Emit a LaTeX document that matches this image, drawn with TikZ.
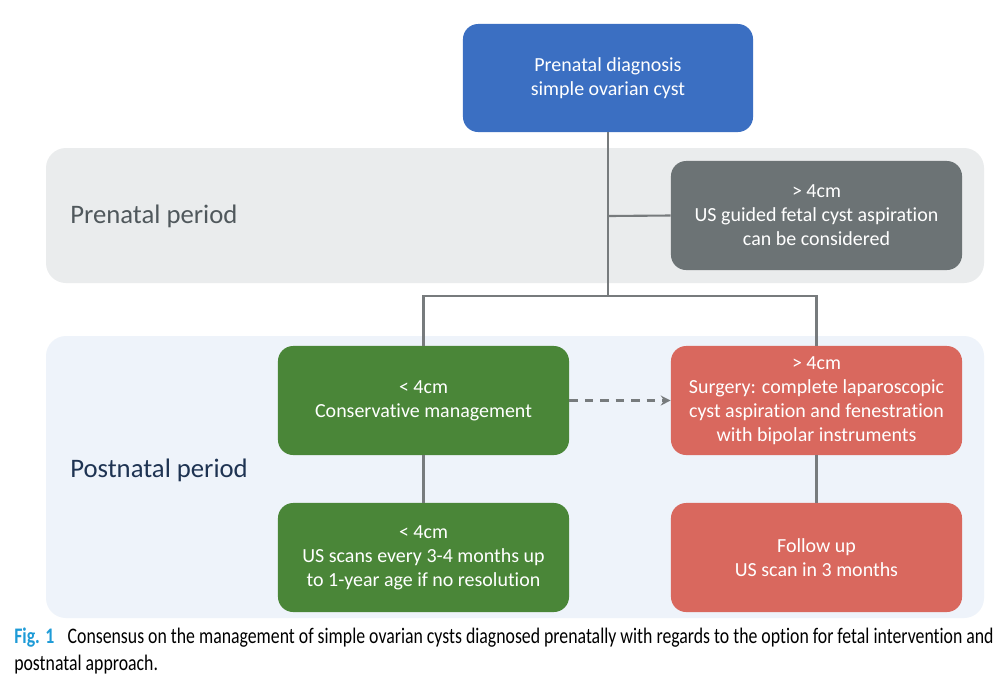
\documentclass[tikz,border=0pt]{standalone}
\usepackage{fontspec}
\setmainfont[Ligatures=NoCommon]{Carlito}
\newfontfamily\captionfont[FakeStretch=0.8, Ligatures=NoCommon]{Carlito}
\usetikzlibrary{arrows.meta, positioning}
\definecolor{diagblue}{HTML}{3B6FC2}
\definecolor{diaggray}{HTML}{6C7375}
\definecolor{diaggreen}{HTML}{4A8638}
\definecolor{diagred}{HTML}{D9685E}
\definecolor{prenatalbg}{HTML}{EAECED}
\definecolor{postnatalbg}{HTML}{EEF3FA}
\definecolor{linkgray}{HTML}{777B7D}
\definecolor{labelgray}{HTML}{50585C}
\definecolor{labelnavy}{HTML}{1E3352}
\definecolor{figcyan}{HTML}{1E9BD7}
\tikzset{
    flowchart/.style={>=Stealth, x=0.025cm, y=-0.025cm, font=\fontsize{14.2}{17}\selectfont},
    box/.style={rounded corners=0.38cm, minimum width=7.275cm, minimum height=2.725cm,
        align=center, text=white, inner sep=2pt},
    band/.style={rounded corners=0.5cm},
    bandlabel/.style={anchor=west, inner sep=0pt, font=\fontsize{19}{22}\selectfont},
    link/.style={draw=linkgray, line width=1.5pt},
    % optional path between the postnatal branches
    option/.style={link, dashed, dash pattern=on 6pt off 5pt, -{Stealth[length=7pt, width=7pt]}},
}
\begin{document}
\begin{tikzpicture}[flowchart]
    \useasboundingbox[fill=white] (0,0) rectangle (1000,687);

    % period bands
    \fill[band, prenatalbg]  (46,148) rectangle (984,283);
    \fill[band, postnatalbg] (46,336) rectangle (984,618);
    \node[bandlabel, text=labelgray] (prelabel)  at (70,216) {Prenatal period};
    \node[bandlabel, text=labelnavy] (postlabel) at (70,470) {Postnatal period};

    \node[box, fill=diagblue, minimum width=7.25cm, minimum height=2.7cm] (diag) at (608,78)
        {Prenatal diagnosis\\simple ovarian cyst};
    \node[box, fill=diaggray]  (aspir)  at (816.5,215.5)
        {> 4cm\\US guided fetal cyst aspiration\\can be considered};
    \node[box, fill=diaggreen] (small)  at (423.5,400.5)
        {< 4cm\\Conservative management};
    \node[box, fill=diagred]   (large)  at (816.5,400.5)
        {> 4cm\\Surgery: complete laparoscopic\\cyst aspiration and fenestration\\with bipolar instruments};
    \node[box, fill=diaggreen] (scans)  at (423.5,557.5)
        {< 4cm\\US scans every 3-4 months up\\to 1-year age if no resolution};
    \node[box, fill=diagred]   (follow) at (816.5,557.5)
        {Follow up\\US scan in 3 months};

    \coordinate (split) at (608,296);
    \coordinate (prebranch) at (608,216);

    % connectors
    \draw[link] (diag.south) -- (split);
    \draw[link] (prebranch) -- (aspir.west);
    \draw[link] (split) -| (small.north);
    \draw[link] (split) -| (large.north);
    \draw[link] (small) -- (scans);
    \draw[link] (large) -- (follow);
    \draw[option] (small.east) -- (large.west);

    % caption
    \node[anchor=north west, align=left, inner sep=0pt,
        font=\captionfont\fontsize{15.8}{19.2}\selectfont] (caption) at (14,628)
        {{\color{figcyan}\textbf{Fig. 1}}\hspace{0.6em}Consensus on the management of simple ovarian cysts diagnosed prenatally with regards to the option for fetal intervention and\\postnatal approach.};
\end{tikzpicture}
\end{document}
